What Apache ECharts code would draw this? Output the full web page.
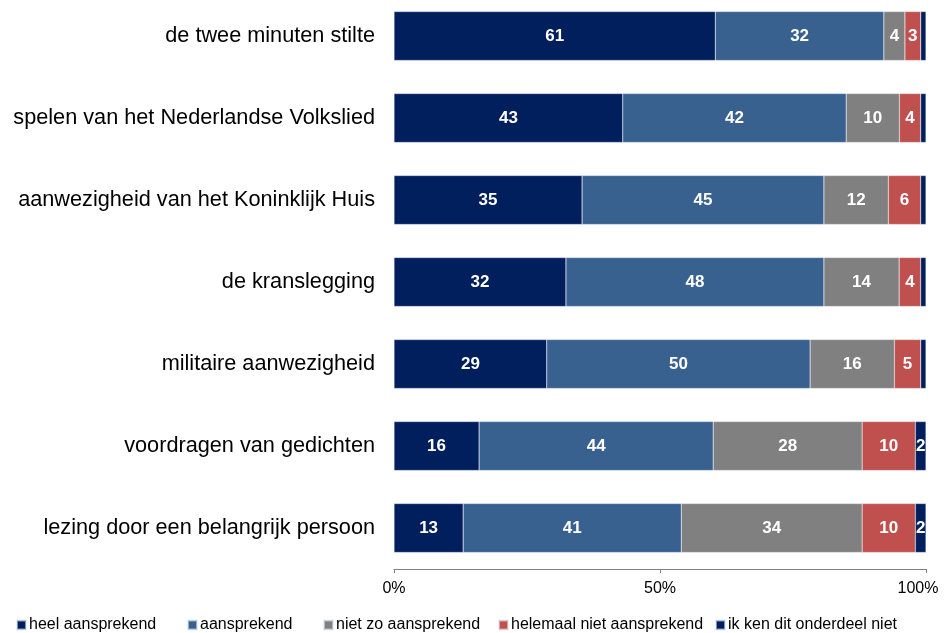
<!DOCTYPE html>
<html>
<head>
<meta charset="utf-8">
<script src="https://cdn.jsdelivr.net/npm/echarts@6/dist/echarts.min.js"></script>
<style>
  html, body { margin: 0; padding: 0; background: #fff; overflow: hidden; }
  /* iets hoger dan het venster zodat de bovenste balk tegen de rand komt */
  #chart { width: 950px; height: 643px; margin-top: -10px; }
</style>
</head>
<body>
<div id="chart"></div>
<script>
// onderdelen van de herdenking
var categories = [
    'de twee minuten stilte',
    'spelen van het Nederlandse Volkslied',
    'aanwezigheid van het Koninklijk Huis',
    'de kranslegging',
    'militaire aanwezigheid',
    'voordragen van gedichten',
    'lezing door een belangrijk persoon'
];
var seriesNames = ['heel aansprekend', 'aansprekend', 'niet zo aansprekend', 'helemaal niet aansprekend', 'ik ken dit onderdeel niet'];
var colors = ['#001F5C', '#386190', '#808080', '#C0504D', '#001F5C'];

// percentages per antwoord (rijen tellen niet altijd precies op tot 100)
var heelAansprekend = [61, 43, 35, 32, 29, 16, 13];
var aansprekend = [32, 42, 45, 48, 50, 44, 41];
var nietZoAansprekend = [4, 10, 12, 14, 16, 28, 34];
var helemaalNiet = [3, 4, 6, 4, 5, 10, 10];
var kenNiet = [1, 1, 1, 1, 1, 2, 2];

var xTicks = ['0%', '50%', '100%'];

var raw = [heelAansprekend, aansprekend, nietZoAansprekend, helemaalNiet, kenNiet];

// elke balk naar 100% schalen
var totals = categories.map(function (c, i) {
    return raw.reduce(function (s, arr) { return s + arr[i]; }, 0);
});

// linkerkant van elk legenda-item
var legendLeft = [16, 187, 323, 498, 715];

var myChart = echarts.init(document.getElementById('chart'));
var option = {
    animation: false,
    textStyle: { fontFamily: '"Liberation Sans", Arial, sans-serif' },
    grid: { left: 394, right: 24, top: 5, bottom: 64 },
    legend: seriesNames.map(function (n, i) {
        return {
            left: legendLeft[i],
            top: 627,
            padding: 0,
            itemWidth: 9,
            itemHeight: 9,
            icon: 'rect',
            textStyle: { fontSize: 16, color: '#000', padding: [0, 0, 0, -2] },
            data: [n]
        };
    }),
    xAxis: {
        type: 'value',
        min: 0,
        max: 100,
        interval: 50,
        axisLine: { show: true, lineStyle: { color: '#808080', width: 1 } },
        axisTick: { show: true, length: 4, lineStyle: { color: '#808080' } },
        splitLine: { show: false },
        axisLabel: {
            fontSize: 16,
            color: '#000',
            margin: 12,
            formatter: function (v) {
                return v === 100 ? '{r|' + xTicks[2] + '}' : xTicks[v / 50];
            },
            rich: { r: { fontSize: 16, padding: [0, 16, 0, 0] } }
        }
    },
    yAxis: {
        type: 'category',
        inverse: true,
        data: categories,
        axisLine: { show: false },
        axisTick: { show: false },
        axisLabel: { fontSize: 21.7, color: '#000', margin: 19 }
    },
    series: raw.map(function (arr, k) {
        return {
            name: seriesNames[k],
            type: 'bar',
            stack: 'totaal',
            barWidth: 49,
            itemStyle: { color: colors[k], borderColor: 'rgba(220,228,240,0.6)', borderWidth: 0.5 },
            label: {
                show: true,
                position: 'inside',
                color: '#fff',
                fontSize: 17,
                fontWeight: 'bold',
                formatter: function (p) {
                    var v = arr[p.dataIndex];
                    return v >= 2 ? String(v) : '';
                }
            },
            data: arr.map(function (v, i) { return v / totals[i] * 100; })
        };
    })
};
option && myChart.setOption(option);
</script>
</body>
</html>
